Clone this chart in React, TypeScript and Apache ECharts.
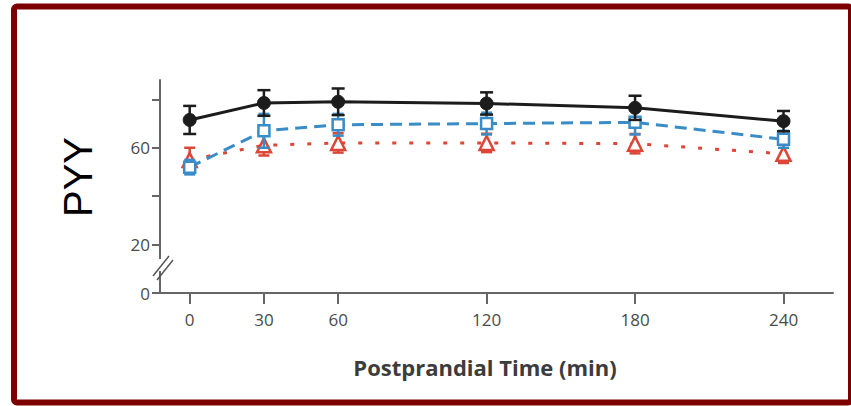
import React, { useEffect, useRef } from "react";
import * as echarts from "echarts";

// ---- data ----
const times = [0, 30, 60, 120, 180, 240];
const xTickValues = [0, 30, 60, 120, 180, 240];
const yTickValues = [0, 20, 40, 60, 80];
const yLabelValues = [0, 20, 60];

const blackMean = [71.5, 78.5, 79, 78.3, 76.5, 71];
const blackErr = [5.8, 5.3, 5.5, 4.6, 5, 4.2];
const blueMean = [52, 67, 69.5, 70, 70.5, 63.5];
const blueErr = [3, 7, 4.5, 4.5, 5, 3.5];
const redMean = [55, 61, 62, 62, 61.7, 57.5];
const redErr = [5, 4.2, 4, 3.8, 4, 3.8];

const BLACK = "#1c1c1c";
const BLUE = "#3a8cc6";
const RED = "#dc4636";

function pairs(means: number[]) {
  return times.map((t, i) => [t, means[i]]);
}
function errData(means: number[], errs: number[]) {
  return times.map((t, i) => [t, means[i] - errs[i], means[i] + errs[i]]);
}

function errSeries(name: string, means: number[], errs: number[], color: string, capW: number, z: number) {
  return {
    type: "custom",
    name,
    z,
    data: errData(means, errs),
    encode: { x: 0, y: [1, 2] },
    renderItem: (params: any, api: any) => {
      const x = api.value(0);
      const lo = api.coord([x, api.value(1)]);
      const hi = api.coord([x, api.value(2)]);
      const st = { stroke: color, lineWidth: 2.5 };
      const h = capW / 2;
      return {
        type: "group",
        children: [
          { type: "line", shape: { x1: lo[0], y1: lo[1], x2: hi[0], y2: hi[1] }, style: st },
          { type: "line", shape: { x1: lo[0] - h, y1: lo[1], x2: lo[0] + h, y2: lo[1] }, style: st },
          { type: "line", shape: { x1: hi[0] - h, y1: hi[1], x2: hi[0] + h, y2: hi[1] }, style: st },
        ],
      };
    },
  };
}

export default function App() {
  const ref = useRef<HTMLDivElement>(null);
  useEffect(() => {
    document.body.style.margin = "0";
    if (!ref.current) return;
    const chart = echarts.init(ref.current, null, { renderer: "svg" });
    const tickFont = { fontFamily: "Open Sans", fontSize: 17, color: "#4a4a4a" };
    chart.setOption({
      animation: false,
      backgroundColor: "#ffffff",
      grid: { left: 160, right: 18, top: 80, bottom: 113, containLabel: false },
      xAxis: {
        type: "value",
        min: -12,
        max: 260,
        splitLine: { show: false },
        axisLine: { show: true, onZero: false, lineStyle: { color: "#666", width: 2 } },
        axisTick: { show: true, length: 11, customValues: xTickValues, lineStyle: { color: "#666", width: 2 } },
        axisLabel: { ...tickFont, margin: 18, customValues: xTickValues },
      },
      yAxis: {
        type: "value",
        min: 0,
        max: 88,
        splitLine: { show: false },
        axisLine: { show: true, onZero: false, lineStyle: { color: "#666", width: 2 } },
        axisTick: { show: true, length: 8, customValues: yTickValues, lineStyle: { color: "#666", width: 2 } },
        axisLabel: { ...tickFont, margin: 10, customValues: yLabelValues },
      },
      graphic: [
        // frame
        {
          type: "rect",
          shape: { x: 14, y: 6.5, width: 837, height: 396, r: 3 },
          style: { fill: "none", stroke: "#7d0000", lineWidth: 6 },
          silent: true,
        },
        // axis break
        { type: "rect", shape: { x: 156, y: 259, width: 8, height: 12 }, style: { fill: "#fff" }, z: 10 },
        { type: "line", shape: { x1: 153, y1: 276, x2: 169, y2: 256 }, style: { stroke: "#555", lineWidth: 1.5 }, z: 11 },
        { type: "line", shape: { x1: 157, y1: 280, x2: 173, y2: 260 }, style: { stroke: "#555", lineWidth: 1.5 }, z: 11 },
        // y title
        {
          type: "text",
          x: 78,
          y: 177,
          rotation: Math.PI / 2,
          style: {
            text: "PYY",
            fontFamily: "Liberation Sans",
            fontSize: 40,
            fill: "#000",
            align: "center",
            verticalAlign: "middle",
          },
        },
        // x title
        {
          type: "text",
          x: 485,
          y: 367,
          style: {
            text: "Postprandial Time (min)",
            fontFamily: "Open Sans",
            fontWeight: "bold",
            fontSize: 22,
            fill: "#3c3c3c",
            align: "center",
            verticalAlign: "middle",
          },
        },
      ],
      series: [
        errSeries("redErr", redMean, redErr, RED, 11, 1),
        {
          type: "line",
          name: "red",
          z: 2,
          data: pairs(redMean),
          symbol: "triangle",
          symbolSize: 14,
          itemStyle: { color: "#fff", borderColor: RED, borderWidth: 2.5 },
          lineStyle: { color: RED, width: 3, type: [4, 13] },
        },
        errSeries("blueErr", blueMean, blueErr, BLUE, 11, 3),
        {
          type: "line",
          name: "blue",
          z: 4,
          data: pairs(blueMean),
          symbol: "rect",
          symbolSize: 11,
          itemStyle: { color: "#fff", borderColor: BLUE, borderWidth: 2.5 },
          lineStyle: { color: BLUE, width: 3, type: [12, 7] },
        },
        errSeries("blackErr", blackMean, blackErr, BLACK, 13, 5),
        {
          type: "line",
          name: "black",
          z: 6,
          data: pairs(blackMean),
          symbol: "circle",
          symbolSize: 13,
          itemStyle: { color: BLACK, borderColor: BLACK, borderWidth: 1 },
          lineStyle: { color: BLACK, width: 3 },
        },
      ],
    });
    return () => chart.dispose();
  }, []);
  return <div ref={ref} style={{ width: 851, height: 406 }} />;
}
